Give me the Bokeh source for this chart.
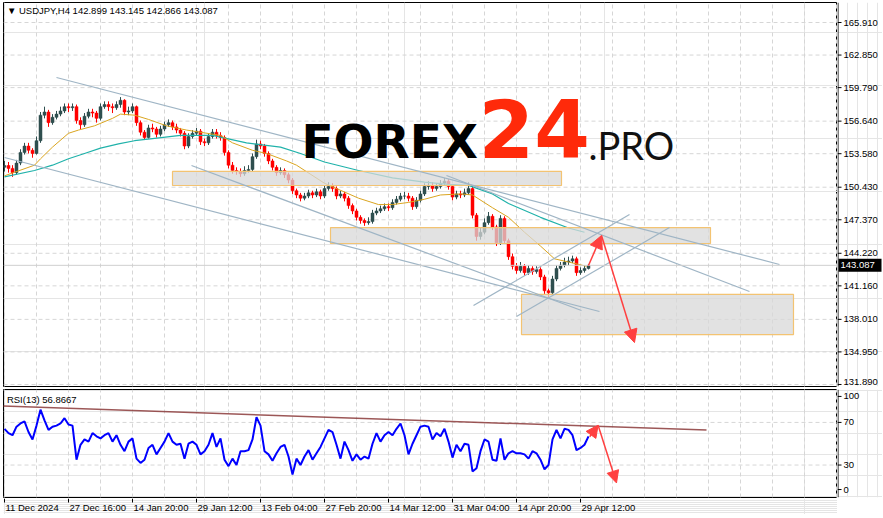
from bokeh.plotting import figure
from bokeh.layouts import column, row
from bokeh.models import (Span, Label, Arrow, NormalHead, ColumnDataSource, Range1d)
from bokeh.core.properties import value
from bokeh.embed import file_html
from bokeh.resources import INLINE

# ---------------- data ----------------
first_open = 152.30
closes = [152.47,152.20,151.80,152.70,153.70,154.30,153.90,153.60,154.80,157.20,
          157.50,156.50,157.00,157.30,157.60,158.00,157.90,158.00,156.70,156.30,
          157.10,157.50,157.40,156.90,158.00,158.20,158.00,157.90,158.20,158.60,
          157.50,157.60,158.00,156.50,155.60,155.10,156.00,155.90,155.40,155.90,
          156.30,156.50,156.10,155.80,155.50,154.30,155.20,155.50,155.70,154.70,
          154.60,155.20,155.60,155.30,155.10,153.70,152.50,152.00,151.90,151.70,
          152.00,152.10,153.30,154.50,154.30,153.60,152.90,152.30,151.80,152.00,
          151.60,151.10,150.10,149.70,149.40,149.60,149.90,149.70,150.00,149.60,
          150.30,150.50,150.30,149.60,149.80,149.40,148.70,148.20,147.60,147.30,
          147.10,147.20,148.00,148.20,148.40,148.60,148.50,149.00,149.30,149.60,
          149.60,149.40,148.60,149.20,149.80,150.50,150.60,150.30,150.50,150.80,
          151.00,150.50,149.50,149.80,149.70,149.90,150.30,147.80,145.80,146.20,
          147.10,147.70,146.70,145.20,147.50,145.40,143.90,143.00,142.60,143.00,
          142.40,142.80,142.50,142.70,142.00,140.70,140.50,141.80,142.80,143.10,
          143.40,143.50,143.70,142.40,142.60,142.80,143.087]
highs = [152.9,152.8,152.5,153.0,154.0,154.6,154.6,154.1,155.2,157.5,
         158.0,157.7,157.3,157.6,158.0,158.3,158.3,158.3,158.2,157.0,
         157.4,157.8,157.8,157.6,158.3,158.5,158.5,158.3,158.5,158.9,
         158.7,158.0,158.3,158.1,156.7,155.8,156.3,156.4,156.1,156.2,
         156.6,156.8,156.7,156.4,156.0,155.7,155.5,155.8,156.0,155.9,
         155.0,155.5,155.9,155.9,155.6,155.3,153.9,152.8,152.3,152.2,
         152.4,152.5,153.6,154.9,154.8,154.5,153.8,153.1,152.5,152.3,
         152.2,151.8,151.3,150.3,149.9,149.9,150.2,150.1,150.3,150.2,
         150.6,150.9,150.8,150.5,150.1,150.0,149.6,148.9,148.4,147.8,
         147.5,147.6,148.3,148.5,148.7,148.9,148.9,149.3,149.6,149.9,
         150.0,149.9,149.6,149.5,150.1,150.8,151.0,150.9,150.8,151.1,
         151.3,151.2,150.7,150.1,150.1,150.3,150.9,150.5,148.0,146.6,
         147.5,148.1,147.9,146.9,147.8,147.7,145.6,144.2,143.3,143.4,
         143.2,143.1,143.0,143.0,142.9,142.2,140.9,142.1,143.1,143.4,
         143.8,143.9,144.0,143.9,142.9,143.1,143.2]
lows = [151.9,151.8,151.4,151.6,152.5,153.5,153.6,153.2,153.5,154.6,
        156.9,156.1,156.3,156.8,157.1,157.4,157.5,157.6,156.4,155.9,
        156.1,156.9,157.0,156.5,156.7,157.8,157.6,157.4,157.7,157.9,
        157.2,157.2,157.4,156.2,155.3,154.9,155.0,155.6,155.1,155.2,
        155.7,156.1,155.8,155.5,155.2,154.0,154.1,155.0,155.3,154.4,
        154.3,154.4,155.0,155.0,154.8,153.4,152.2,151.7,151.6,151.4,
        151.5,151.8,151.9,153.1,154.0,153.3,152.6,152.0,151.5,151.6,
        151.3,150.8,149.8,149.4,149.1,149.2,149.4,149.4,149.5,149.3,
        149.4,150.1,150.0,149.3,149.4,149.1,148.4,147.9,147.3,147.0,
        146.8,146.9,147.0,147.8,148.0,148.2,148.2,148.3,148.8,149.1,
        149.3,149.1,148.3,148.4,149.0,149.6,150.2,150.0,150.1,150.3,
        150.6,150.2,149.2,149.3,149.4,149.5,149.7,147.5,145.4,145.5,
        146.0,146.9,146.4,144.9,145.0,145.1,143.6,142.7,142.3,142.4,
        142.1,142.2,142.2,142.3,141.7,140.4,140.1,140.3,141.6,142.6,
        142.9,143.1,143.3,142.1,142.2,142.4,142.7]

ma_fast_x = [0,7.5,9,12,16,18.5,22.5,27,29,32.5,36,40.5,45.5,54,57,62,65.5,70.5,73,80,
             88.5,93.5,97,101,105,109,114,117,122,126,130,134,137.5,141,145.5]
ma_fast = [151.5,152.5,153.1,154.2,155.5,155.8,156.2,156.9,157.3,157.2,156.8,156.2,155.8,
           155.3,154.6,153.9,153.6,152.9,152.5,150.8,149.4,148.8,148.8,149.0,149.3,149.7,
           149.8,149.7,148.5,147.6,146.2,144.9,143.7,143.4,143.0]
ma_slow_x = [0,7.5,12,16,20,24,28.5,32.5,37,44,52,60.5,69,74,80,88.5,97,105,111,116,
             122,126,134,141,145]
ma_slow = [151.4,152.0,152.5,153.1,153.6,154.1,154.5,154.8,155.0,155.3,155.3,154.6,154.2,
           153.6,152.8,152.0,151.3,150.9,150.7,150.6,149.8,148.9,147.6,146.6,146.2]

rsi = [64,60,58,66,69,71,61,54,67,82,72,63,66,67,69,74,68,67,35,49,
       54,52,60,57,55,58,60,52,58,49,43,52,55,36,32,35,46,49,40,46,
       52,60,52,49,50,36,50,52,49,40,43,49,60,47,55,35,29,36,30,43,
       43,44,54,75,67,43,40,34,41,47,49,38,21,36,30,38,44,35,41,47,
       55,63,61,49,36,52,44,34,40,35,38,36,50,60,52,58,61,58,64,69,
       58,40,50,58,66,67,66,54,60,57,64,52,37,49,43,50,49,24,27,43,
       54,52,35,34,55,35,41,43,41,41,40,36,43,41,35,26,30,54,63,55,
       64,63,58,44,46,49,56.8667]

price_ticks = [165.910,162.850,159.790,156.640,153.580,150.430,147.370,144.220,
               141.160,138.010,134.950,131.890]
price_tick_labels = ["165.910","162.850","159.790","156.640","153.580","150.430",
                     "147.370","144.220","141.160","138.010","134.950","131.890"]
rsi_tick_pos = [7, 30, 70, 94.4]
rsi_tick_labels = ["0", "30", "70", "100"]
rsi_levels = [30, 70]
date_tick_idx = [0,16,32,48,64,80,96,112,128,144]
date_labels = ["11 Dec 2024","27 Dec 16:00","14 Jan 20:00","29 Jan 12:00","13 Feb 04:00",
               "27 Feb 20:00","14 Mar 12:00","31 Mar 04:00","14 Apr 20:00","29 Apr 12:00"]

# drawn objects (trend lines, zones, arrows) in (bar index, price)
trend_x0 = [13.0, 0.0, 46.75, 110.5, 117.25, 128.0]
trend_y0 = [160.74, 153.22, 152.47, 151.53, 139.31, 138.27]
trend_x1 = [193.75, 148.75, 144.25, 186.25, 156.25, 166.25]
trend_y1 = [143.17, 138.75, 138.84, 140.63, 147.86, 146.64]
zone_left = [42.0, 81.5, 129.25]
zone_right = [139.25, 176.5, 197.25]
zone_top = [151.91, 146.64, 140.35]
zone_bottom = [150.59, 145.14, 136.58]
arrows_main = [(146.0, 143.07, 149.25, 145.89), (149.25, 145.89, 157.5, 135.83)]
rsi_trend = (-0.75, 85.4, 175.5, 62.8)
arrows_rsi = [(146.3, 56.6, 148.4, 67.4), (148.4, 67.4, 153.0, 13.2)]

last_price = 143.087
last_price_text = "143.087"
header = "\u25BC USDJPY,H4  142.899 143.145 142.866 143.087"
rsi_header = "RSI(13) 56.8667"

# ---------------- styling / layout constants ----------------
FONT = "Liberation Sans"
FS = "9.5px"
GRID = "#d6d6d6"
UP = "#2f4f4f"
DOWN = "#ff0000"
PW = 837       # plot figure width (frame 3..837)
AW = 45        # right axis strip width
XR = Range1d(-0.25, 208.25)
YR_MAIN = Range1d(131.70, 167.79)
YR_RSI = Range1d(-0.47, 100.9)
H1, H2, H3 = 387, 111, 16

n = len(closes)
xs = list(range(n))
opens = [first_open] + closes[:-1]
colors = [UP if c >= o else DOWN for o, c in zip(opens, closes)]
src = ColumnDataSource(dict(x=xs, h=highs, l=lows,
                            top=[max(o, c) for o, c in zip(opens, closes)],
                            bot=[min(o, c) for o, c in zip(opens, closes)],
                            color=colors))


def panel(height, y_range):
    p = figure(width=PW, height=height, x_range=XR, y_range=y_range,
               output_backend="svg", toolbar_location=None,
               x_axis_location=None, y_axis_location=None,
               min_border_left=3, min_border_right=0, min_border_top=2, min_border_bottom=1)
    p.outline_line_color = "black"
    p.outline_line_width = 1
    p.background_fill_color = "white"
    p.border_fill_color = "white"
    return p


def vgrid(p):
    gx = list(range(0, 209, 8))
    p.segment(x0=gx, x1=gx, y0=[p.y_range.start] * len(gx), y1=[p.y_range.end] * len(gx),
              line_color=GRID, line_dash="4 3", line_width=1)


def hgrid(p, levels):
    p.segment(x0=[XR.start] * len(levels), x1=[XR.end] * len(levels), y0=levels, y1=levels,
              line_color=GRID, line_dash="4 3", line_width=1)


def axis_strip(height, y_range, ticks, label_pos, labels):
    a = figure(width=AW, height=height, x_range=Range1d(0, AW), y_range=y_range,
               output_backend="svg", toolbar_location=None,
               x_axis_location=None, y_axis_location=None,
               min_border_left=0, min_border_right=0, min_border_top=2, min_border_bottom=1)
    a.outline_line_color = None
    a.background_fill_color = "white"
    a.border_fill_color = "white"
    a.add_layout(Span(location=0.5, dimension="height", line_color="black", line_width=1))
    a.segment(x0=[0] * len(ticks), x1=[4] * len(ticks), y0=ticks, y1=ticks,
              line_color="black", line_width=1)
    a.text(x=[6] * len(labels), y=label_pos, text=labels, text_font=value(FONT),
           text_font_size=FS, text_baseline="middle", text_align="left", text_color="black")
    return a


# ---------------- main price panel ----------------
p1 = panel(H1, YR_MAIN)
vgrid(p1)
hgrid(p1, price_ticks)
p1.add_layout(Span(location=last_price, dimension="width", line_color="#cfcfcf", line_width=1))

p1.segment(x0="x", y0="l", x1="x", y1="h", line_color="color", line_width=1, source=src)
p1.vbar(x="x", top="top", bottom="bot", width=0.75, fill_color="color", line_color="color",
        line_width=0.5, source=src)

p1.line(ma_slow_x, ma_slow, line_color="#20b2aa", line_width=1.2)
p1.line(ma_fast_x, ma_fast, line_color="#daa520", line_width=1)

p1.quad(left=zone_left, right=zone_right, top=zone_top, bottom=zone_bottom,
        fill_color="#d8d8d8", fill_alpha=0.75, line_color="#f3c372", line_width=1.2)

p1.segment(x0=trend_x0, y0=trend_y0, x1=trend_x1, y1=trend_y1,
           line_color="#9fb5c5", line_width=1.2)

for (xa, ya, xb, yb) in arrows_main:
    p1.add_layout(Arrow(end=NormalHead(size=13, fill_color="#ff4040", line_color="#ff4040"),
                        x_start=xa, y_start=ya, x_end=xb, y_end=yb,
                        line_color="#ff4040", line_width=1.5))

# watermark logo (anchor positions in chart units)
p1.text(x=[74.25], y=[154.76], text=["FOREX"], text_font=value("DejaVu Sans"),
        text_font_style="bold", text_font_size="47px", text_color="#000000",
        text_baseline="alphabetic", text_align="left")
p1.text(x=[118.5], y=[155.91], text=["24"], text_font=value("DejaVu Sans"),
        text_font_style="bold", text_font_size="80px", text_color="#ff2a0a",
        text_baseline="alphabetic", text_align="left")
p1.text(x=[146.0], y=[154.44], text=[".PRO"], text_font=value("Lato"),
        text_font_style="normal", text_font_size="38px", text_color="#111111",
        text_baseline="alphabetic", text_align="left")

p1.add_layout(Label(x=0.6, y=167.04, text=header, text_font=FONT, text_font_size=FS,
                    text_baseline="middle", text_color="black"))

label_pos_main = price_ticks[:-1] + [132.12]
a1 = axis_strip(H1, YR_MAIN, price_ticks, label_pos_main, price_tick_labels)
a1.rect(x=[22.5], y=[last_price], width=[43], height=[13], height_units="screen",
        fill_color="black", line_color=None)
a1.text(x=[3], y=[last_price], text=[last_price_text], text_font=value(FONT),
        text_font_size=FS, text_baseline="middle", text_align="left", text_color="white")

# ---------------- RSI panel ----------------
p2 = panel(H2, YR_RSI)
vgrid(p2)
hgrid(p2, rsi_levels)
p2.segment(x0=[rsi_trend[0]], y0=[rsi_trend[1]], x1=[rsi_trend[2]], y1=[rsi_trend[3]],
           line_color="#8b3a3a", line_width=1.5, line_alpha=0.85)
p2.line(xs, rsi, line_color="#0000ff", line_width=2)
for (xa, ya, xb, yb) in arrows_rsi:
    p2.add_layout(Arrow(end=NormalHead(size=12, fill_color="#ff4040", line_color="#ff4040"),
                        x_start=xa, y_start=ya, x_end=xb, y_end=yb,
                        line_color="#ff4040", line_width=1.5))
p2.add_layout(Label(x=0.6, y=91.6, text=rsi_header, text_font=FONT, text_font_size=FS,
                    text_baseline="middle", text_color="black"))

a2 = axis_strip(H2, YR_RSI, rsi_tick_pos, rsi_tick_pos, rsi_tick_labels)

# ---------------- date axis strip ----------------
p3 = figure(width=PW, height=H3, x_range=XR, y_range=Range1d(0, H3),
            output_backend="svg", toolbar_location=None,
            x_axis_location=None, y_axis_location=None,
            min_border_left=3, min_border_right=0, min_border_top=0, min_border_bottom=0)
p3.outline_line_color = None
p3.background_fill_color = "white"
p3.border_fill_color = "white"
p3.segment(x0=date_tick_idx, x1=date_tick_idx, y0=[H3] * len(date_tick_idx),
           y1=[H3 - 4] * len(date_tick_idx), line_color="black", line_width=1)
p3.text(x=date_tick_idx, y=[H3 - 3] * len(date_tick_idx), text=date_labels,
        text_font=value(FONT), text_font_size=FS, text_baseline="top", text_align="left",
        text_color="black", x_offset=1)

layout = column(row(p1, a1), row(p2, a2), p3)
open("out.html", "w").write(file_html(layout, INLINE))
